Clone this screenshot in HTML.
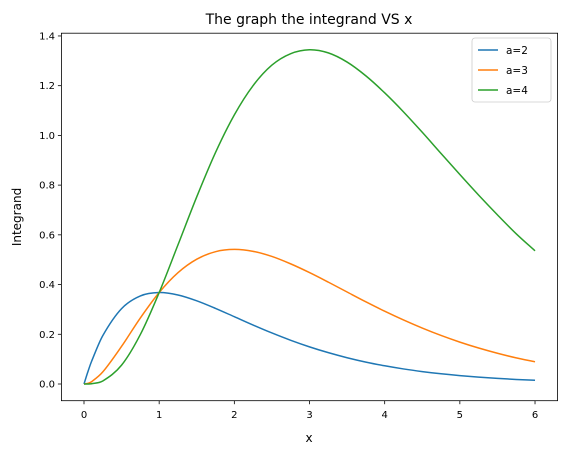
<!DOCTYPE html>
<html><head><meta charset="utf-8"><style>
body{margin:0;background:#fff;}
svg text{font-family:"DejaVu Sans","Liberation Sans",sans-serif;fill:#000;}
</style></head><body>
<svg width="567" height="455" viewBox="0 0 567 455" id="chart">
<text x="309" y="24" font-size="14" text-anchor="middle">The graph the integrand VS x</text>
<rect x="61.4" y="33.2" width="496.2" height="367.5" fill="none" stroke="#000" stroke-width="0.8"/>
<g id="xt"></g>
<g id="yt"></g>
<g id="series"></g>
<text x="309" y="442" font-size="12" text-anchor="middle">x</text>
<text x="0" y="0" font-size="12" text-anchor="middle" transform="translate(21,217) rotate(-90)">Integrand</text>
<g>
<rect x="472" y="38" width="79" height="64" rx="3" fill="#fff" stroke="#ccc" stroke-width="0.8" fill-opacity="0.8"/>
<line x1="478" y1="50" x2="498" y2="50" stroke="#1f77b4" stroke-width="1.5"/>
<text x="506" y="54" font-size="10.5">a=2</text>
<line x1="478" y1="70" x2="498" y2="70" stroke="#ff7f0e" stroke-width="1.5"/>
<text x="506" y="74" font-size="10.5">a=3</text>
<line x1="478" y1="90" x2="498" y2="90" stroke="#2ca02c" stroke-width="1.5"/>
<text x="506" y="94" font-size="10.5">a=4</text>
</g>
</svg>
<script>
const xs=[0,0.05,0.1,0.25,0.5,0.75,1,1.25,1.5,1.75,2,2.25,2.5,2.75,3,3.25,3.5,3.75,4,4.25,4.5,4.75,5,5.25,5.5,5.75,6];
const a2=[0,.0476,.0905,.1947,.3033,.3543,.3679,.3581,.3347,.3041,.2707,.2371,.2052,.1758,.1494,.1261,.1057,.0881,.0733,.0606,.0500,.0411,.0337,.0276,.0225,.0183,.0149];
const a3=[0,.0024,.0090,.0487,.1516,.2657,.3679,.4477,.5020,.5323,.5413,.5336,.5131,.4832,.4482,.4098,.3700,.3305,.2928,.2576,.2250,.1952,.1685,.1447,.1237,.1051,.0893];
const a4=[0,.0001,.0009,.0122,.0758,.1993,.3679,.5596,.7530,.9315,1.0826,1.2006,1.2828,1.3288,1.3446,1.3319,1.2950,1.2394,1.1712,1.0948,1.0125,.9272,.8425,.7597,.6804,.6043,.5358];
const xTicks=[0,1,2,3,4,5,6];
const yTicks=[0,0.2,0.4,0.6,0.8,1.0,1.2,1.4];
const NS="http://www.w3.org/2000/svg";
const X=v=>84+v*75.17, Y=v=>384-v*248.6;
function mk(t,at,p){const e=document.createElementNS(NS,t);for(const k in at)e.setAttribute(k,at[k]);p.appendChild(e);return e;}
const xt=document.getElementById('xt'),yt=document.getElementById('yt'),sg=document.getElementById('series');
xTicks.forEach(v=>{
 const l=mk('line',{x1:X(v),x2:X(v),y1:400.7,y2:404.2,stroke:'#000','stroke-width':0.8},xt);
 
 
 const t=mk('text',{x:X(v),y:418,'font-size':10,'text-anchor':'middle'},xt);t.textContent=String(v);
 
 
});
yTicks.forEach(v=>{
 const l=mk('line',{x1:57.9,x2:61.4,y1:Y(v),y2:Y(v),stroke:'#000','stroke-width':0.8},yt);
 
 
 const t=mk('text',{x:55,y:Y(v)+3.5,'font-size':10,'text-anchor':'end'},yt);t.textContent=v.toFixed(1);
 
 
});
function path(ys){
 const p=xs.map((x,i)=>[X(x),Y(ys[i])]);
 let d='M'+p[0][0]+','+p[0][1];
 for(let i=0;i<p.length-1;i++){
  const p0=p[Math.max(i-1,0)],p1=p[i],p2=p[i+1],p3=p[Math.min(i+2,p.length-1)];
  const h=p2[0]-p1[0];
  const m1=(p2[1]-p0[1])/(p2[0]-p0[0]||1), m2=(p3[1]-p1[1])/(p3[0]-p1[0]||1);
  const c1=[p1[0]+h/3,p1[1]+m1*h/3],c2=[p2[0]-h/3,p2[1]-m2*h/3];
  d+=' C'+c1+' '+c2+' '+p2;
 }
 return d;
}
[[a2,'#1f77b4','a2'],[a3,'#ff7f0e','a3'],[a4,'#2ca02c','a4']].forEach(([ys,c,n])=>{
 const e=mk('path',{d:path(ys),fill:'none',stroke:c,'stroke-width':1.5},sg);
 
 
});
</script>
</body></html>
